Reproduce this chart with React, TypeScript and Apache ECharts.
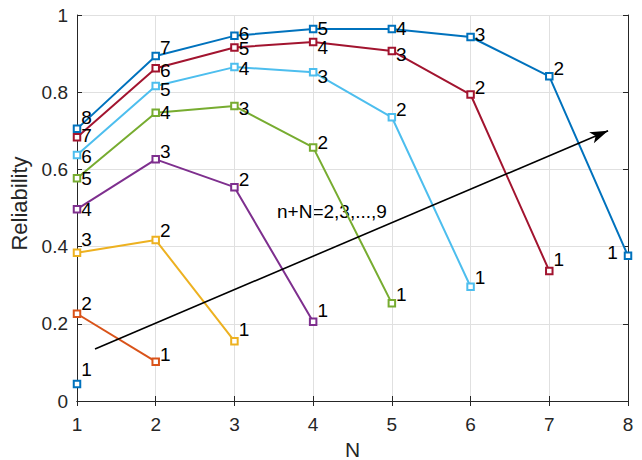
import React, { useEffect, useRef } from "react";
import * as echarts from "echarts";

// N = number of ... (x), reliability values for n+N = 2..9
const nValues = [1, 2, 3, 4, 5, 6, 7, 8];
const rel2 = [0.044];
const rel3 = [0.226, 0.102];
const rel4 = [0.384, 0.417, 0.155];
const rel5 = [0.497, 0.626, 0.554, 0.205];
const rel6 = [0.577, 0.747, 0.764, 0.657, 0.253];
const rel7 = [0.637, 0.816, 0.865, 0.852, 0.735, 0.296];
const rel8 = [0.683, 0.862, 0.916, 0.93, 0.907, 0.794, 0.337];
const rel9 = [0.705, 0.894, 0.946, 0.964, 0.964, 0.943, 0.841, 0.376];
const xTicks = [1, 2, 3, 4, 5, 6, 7, 8];
const yTicks = ["0", "0.2", "0.4", "0.6", "0.8", "1"];
const annotationText = "n+N=2,3,...,9";
const arrowStart = [1.229, 0.135];
const arrowEnd = [7.747, 0.7];

// Styling (label nudges in px, colours)
const colors = ["#0072BD", "#D95319", "#EDB120", "#7E2F8E", "#77AC30", "#4DBEEE", "#A2142F", "#0072BD"];
const labelDy = [
  [-15],
  [-10, -7],
  [-13, -10, -12],
  [0, -8, -8, -11],
  [0, 0, 2, -5, -9],
  [1, 3, 1, 4, -8, -9],
  [-2, 2, 1, 5, 4, -7, -11],
  [-11, -8, -2, 0, 0, -3, -8, -3],
];

const FONT = '"Liberation Sans", Arial, Helvetica, sans-serif';

export default function App() {
  const ref = useRef<HTMLDivElement>(null);
  useEffect(() => {
    document.body.style.margin = "0";
    const chart = echarts.init(ref.current!, null, { renderer: "svg" });
    const all = [rel2, rel3, rel4, rel5, rel6, rel7, rel8, rel9];
    const series: any[] = all.map((vals, s) => ({
      type: "line",
      name: "n+N=" + (s + 2),
      xAxisIndex: 0,
      yAxisIndex: 0,
      symbol: "emptyRect",
      symbolSize: 6.5,
      lineStyle: { width: 2, color: colors[s] },
      itemStyle: { color: colors[s], borderWidth: 1.5 },
      emphasis: { disabled: true },
      label: {
        show: true,
        position: "right",
        distance: 0,
        color: "#000",
        fontSize: 19,
        fontFamily: FONT,
        formatter: (p: any) => String(vals.length - p.dataIndex),
      },
      data: vals.map((y, i) => {
        const last = s === 7 && i === vals.length - 1;
        return {
          value: [nValues[i], y],
          label: last
            ? { position: "left", distance: 6, offset: [0, labelDy[s][i]] }
            : { offset: [0, labelDy[s][i]] },
        };
      }),
    }));
    series.push({
      type: "line",
      name: "arrow",
      xAxisIndex: 0,
      yAxisIndex: 0,
      data: [],
      silent: true,
      markLine: {
        silent: true,
        animation: false,
        symbol: ["none", "arrow"],
        symbolSize: [9, 18],
        label: { show: false },
        lineStyle: { color: "#000", width: 1.6, type: "solid" },
        emphasis: { disabled: true },
        data: [[{ coord: arrowStart }, { coord: arrowEnd }]],
      },
    });

    const axisLineStyle = { color: "#262626", width: 1 };
    chart.setOption({
      animation: false,
      textStyle: { fontFamily: FONT },
      grid: { left: 77, right: 14, top: 15, bottom: 59, containLabel: false, outerBoundsMode: "none" },
      xAxis: [
        {
          type: "value",
          min: 1,
          max: 8,
          interval: 1,
          position: "bottom",
          name: "N",
          nameLocation: "middle",
          nameGap: 36,
          nameTextStyle: { fontSize: 21, color: "#262626", fontFamily: FONT },
          axisLine: { show: true, lineStyle: axisLineStyle },
          axisTick: { show: true, inside: true, length: 5, lineStyle: axisLineStyle },
          axisLabel: {
            fontSize: 19,
            color: "#262626",
            margin: 14,
            formatter: (v: number) => String(xTicks[Math.round(v) - 1] ?? v),
          },
          splitLine: { show: true, lineStyle: { color: "#e0e0e0", width: 1 } },
        },
        {
          type: "value",
          min: 1,
          max: 8,
          interval: 1,
          position: "top",
          axisLine: { show: true, lineStyle: axisLineStyle },
          axisTick: { show: true, inside: true, length: 5, lineStyle: axisLineStyle },
          axisLabel: { show: false },
          splitLine: { show: false },
        },
      ],
      yAxis: [
        {
          type: "value",
          min: 0,
          max: 1,
          interval: 0.2,
          position: "left",
          name: "Reliability",
          nameLocation: "middle",
          nameGap: 40,
          nameTextStyle: { fontSize: 22, color: "#262626", fontFamily: FONT, padding: [0, 0, 0, 9] },
          axisLine: { show: true, lineStyle: axisLineStyle },
          axisTick: { show: true, inside: true, length: 5, lineStyle: axisLineStyle },
          axisLabel: {
            fontSize: 19,
            color: "#262626",
            margin: 9,
            padding: [5, 0, 0, 0],
            formatter: (v: number) => yTicks[Math.round(v * 5)] ?? String(v),
          },
          splitLine: { show: true, lineStyle: { color: "#e0e0e0", width: 1 } },
        },
        {
          type: "value",
          min: 0,
          max: 1,
          interval: 0.2,
          position: "right",
          axisLine: { show: true, lineStyle: axisLineStyle },
          axisTick: { show: true, inside: true, length: 5, lineStyle: axisLineStyle },
          axisLabel: { show: false },
          splitLine: { show: false },
        },
      ],
      graphic: [
        {
          type: "text",
          left: 277,
          top: 202,
          silent: true,
          style: { text: annotationText, font: "19px " + FONT, fill: "#000" },
        },
      ],
      series,
    });
    return () => chart.dispose();
  }, []);
  return (
    <div
      ref={ref}
      style={{ position: "absolute", left: 0, top: 0, width: 642, height: 460, background: "#fff" }}
    />
  );
}
